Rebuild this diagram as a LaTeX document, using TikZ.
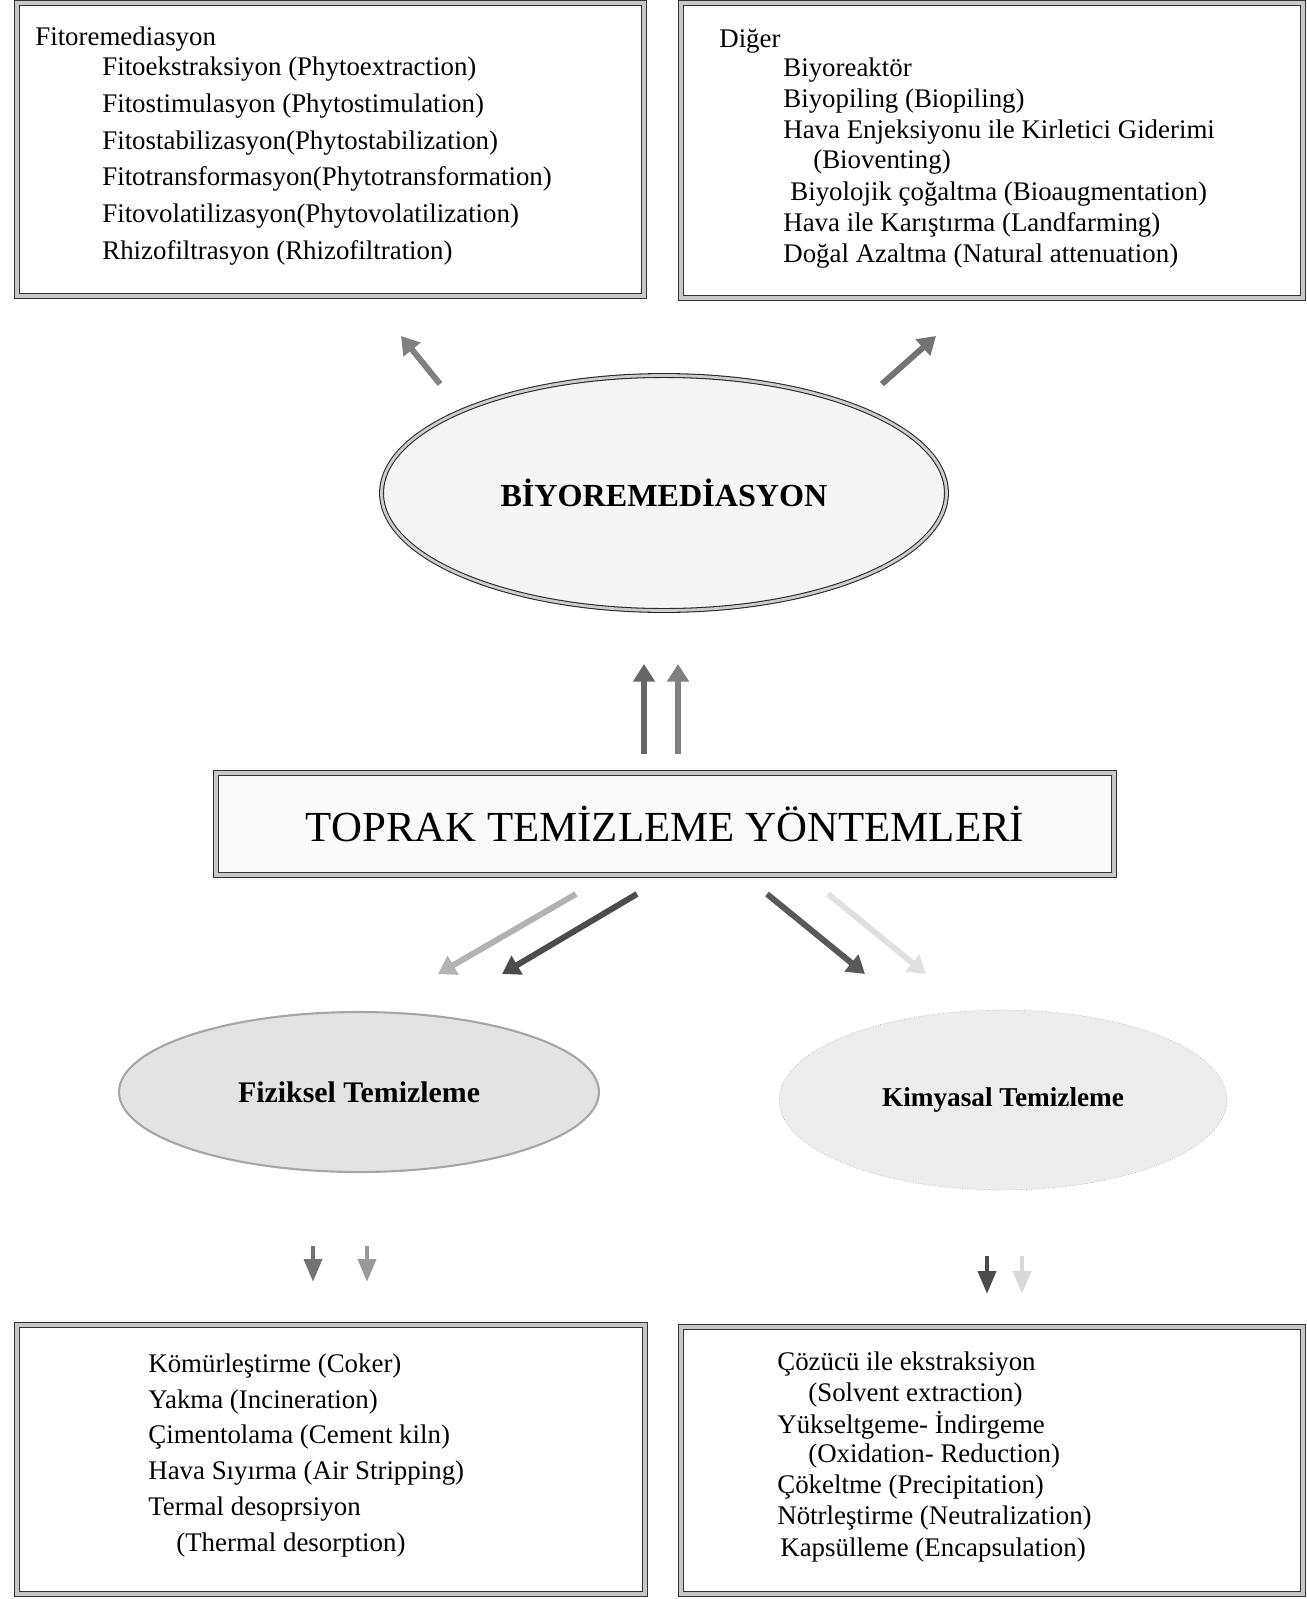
\documentclass[tikz,border=0pt]{standalone}
\usepackage{fontspec}
\setmainfont{Liberation Serif}
\usetikzlibrary{arrows.meta,shapes.geometric,fit}

\tikzset{
  listbox/.style={draw=black!80, double=black!22, double distance=2.4pt, line width=.6pt},
  item/.style={anchor=west, inner sep=0pt, font=\fontsize{15.3}{17}\selectfont},
  fatarrow/.style={line width=3.4pt, -{Triangle[length=10pt,width=12pt]}},
  droparrow/.style={line width=2.6pt, -{Triangle[length=13pt,width=10pt]}},
}

\begin{document}
\begin{tikzpicture}[x=0.02cm, y=-0.02cm]
  \useasboundingbox (0,0) rectangle (1306,1599);

  % list boxes
  \node[listbox, fit={(17,3) (644,296)}, inner sep=0pt] (fitobox) {};
  \node[listbox, fit={(681,3) (1303,298)}, inner sep=0pt] (digerbox) {};
  \node[listbox, fit={(17,1325) (645,1594)}, inner sep=0pt] (fizbox) {};
  \node[listbox, fit={(681,1327) (1303,1594)}, inner sep=0pt] (kimbox) {};

  % Fitoremediasyon
  \node[item] (fito0) at (35,39) {Fitoremediasyon};
  \foreach \t [count=\i] in {Fitoekstraksiyon (Phytoextraction),
      Fitostimulasyon (Phytostimulation),
      Fitostabilizasyon(Phytostabilization),
      Fitotransformasyon(Phytotransformation),
      Fitovolatilizasyon(Phytovolatilization),
      Rhizofiltrasyon (Rhizofiltration)}
    \node[item] (fito\i) at (102,32.2+36.8*\i) {\t};

  % Diger
  \node[item] (diger0) at (719,41) {Diğer};
  \node[item] (diger1) at (783,70) {Biyoreaktör};
  \node[item] (diger2) at (783,101) {Biyopiling (Biopiling)};
  \node[item] (diger3) at (783,132) {Hava Enjeksiyonu ile Kirletici Giderimi};
  \node[item] (diger3b) at (813,162) {(Bioventing)};
  \node[item] (diger4) at (790,194) {Biyolojik çoğaltma (Bioaugmentation)};
  \node[item] (diger5) at (783,225) {Hava ile Karıştırma (Landfarming)};
  \node[item] (diger6) at (783,256) {Doğal Azaltma (Natural attenuation)};

  % ellipses and main box
  \node[ellipse, draw=black!85, double=black!20, double distance=1.6pt, line width=.6pt,
        fill=black!4, minimum width=11.3cm, minimum height=4.7cm,
        font=\bfseries\fontsize{18.3}{21}\selectfont] (bio) at (664,493) {BİYOREMEDİASYON};
  \node[listbox, fill=black!2, fit={(216,773) (1114,875)}, inner sep=0pt] (main) {};
  \node[font=\fontsize{24.4}{28}\selectfont] (maintext) at (main.center) {TOPRAK TEMİZLEME YÖNTEMLERİ};
  \node[ellipse, draw=black!35, line width=1.2pt, fill=black!11, minimum width=9.6cm, minimum height=3.2cm,
        font=\bfseries\fontsize{17}{20}\selectfont] (fiz) at (359,1092) {Fiziksel Temizleme};
  \node[ellipse, draw=black!30, densely dotted, fill=black!7, minimum width=8.96cm, minimum height=3.6cm,
        font=\bfseries\fontsize{15.5}{18}\selectfont] (kim) at (1003,1100) {Kimyasal Temizleme};

  % Fiziksel list
  \node[item] (fiz1) at (148,1366) {Kömürleştirme (Coker)};
  \node[item] (fiz2) at (148,1402) {Yakma (Incineration)};
  \node[item] (fiz3) at (148,1437) {Çimentolama (Cement kiln)};
  \node[item] (fiz4) at (148,1473) {Hava Sıyırma (Air Stripping)};
  \node[item] (fiz5) at (148,1509) {Termal desoprsiyon};
  \node[item] (fiz5b) at (176,1545) {(Thermal desorption)};

  % Kimyasal list
  \node[item] (kim1) at (777,1364) {Çözücü ile ekstraksiyon};
  \node[item] (kim1b) at (808,1395) {(Solvent extraction)};
  \node[item] (kim2) at (777,1425) {Yükseltgeme- İndirgeme};
  \node[item] (kim2b) at (808,1456) {(Oxidation- Reduction)};
  \node[item] (kim3) at (777,1487) {Çökeltme (Precipitation)};
  \node[item] (kim4) at (777,1518) {Nötrleştirme (Neutralization)};
  \node[item] (kim5) at (780,1550) {Kapsülleme (Encapsulation)};

  % arrow ends
  \coordinate (a1) at (440,384);  \coordinate (b1) at (401,336);
  \coordinate (a2) at (882,384);  \coordinate (b2) at (936,336);
  \coordinate (a3) at (644,754);  \coordinate (b3) at (644,664);
  \coordinate (a4) at (678,754);  \coordinate (b4) at (678,664);
  \coordinate (a5) at (576,894);  \coordinate (b5) at (438,974);
  \coordinate (a6) at (637,894);  \coordinate (b6) at (502,974);
  \coordinate (a7) at (767,894);  \coordinate (b7) at (865,974);
  \coordinate (a8) at (828,894);  \coordinate (b8) at (926,974);
  \coordinate (a9) at (313,1246); \coordinate (b9) at (313,1282);
  \coordinate (a10) at (367,1246); \coordinate (b10) at (367,1282);
  \coordinate (a11) at (987,1256); \coordinate (b11) at (987,1294);
  \coordinate (a12) at (1022,1256); \coordinate (b12) at (1022,1294);

  \draw[fatarrow, black!50] (a1) -- (b1);
  \draw[fatarrow, black!55] (a2) -- (b2);
  \draw[fatarrow, black!60] (a3) -- (b3);
  \draw[fatarrow, black!50] (a4) -- (b4);
  \draw[fatarrow, black!30] (a5) -- (b5);
  \draw[fatarrow, black!70] (a6) -- (b6);
  \draw[fatarrow, black!65] (a7) -- (b7);
  \draw[fatarrow, black!12] (a8) -- (b8);
  \draw[droparrow, black!55] (a9) -- (b9);
  \draw[droparrow, black!40] (a10) -- (b10);
  \draw[droparrow, black!70] (a11) -- (b11);
  \draw[droparrow, black!15] (a12) -- (b12);
\end{tikzpicture}
\end{document}
